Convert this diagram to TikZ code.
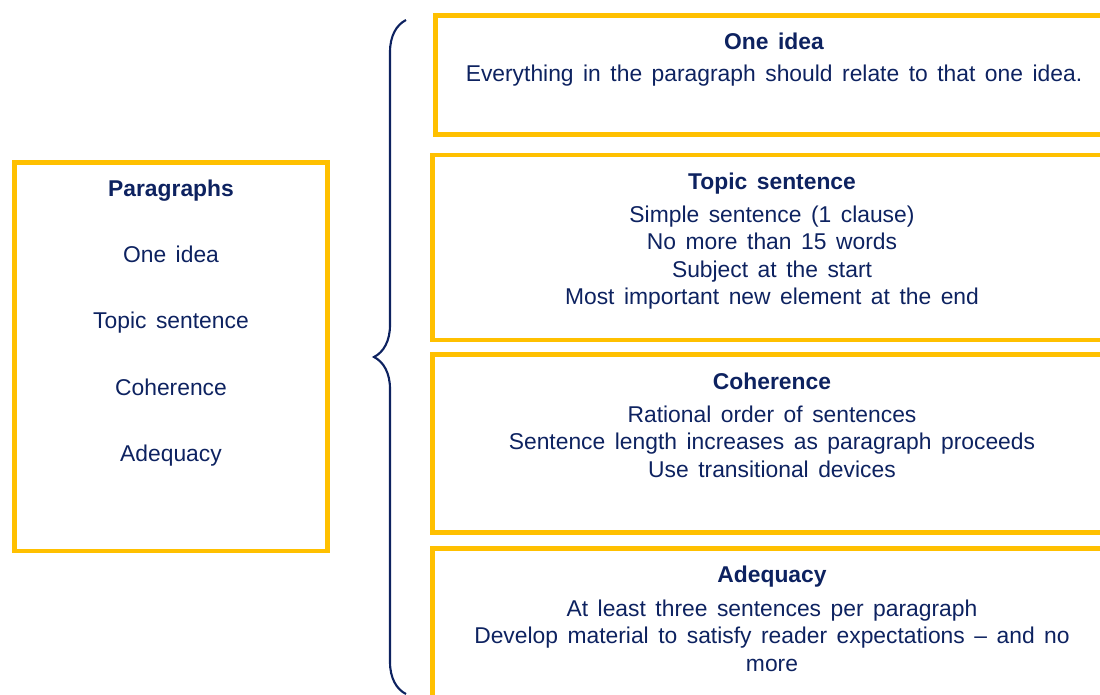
\documentclass[tikz,border=0pt]{standalone}
\usepackage{fontspec}
\setmainfont{Liberation Sans}[WordSpace=1.5]
\usetikzlibrary{
  positioning,
  decorations.pathreplacing
}
\definecolor{gold}{HTML}{FFC000}
\definecolor{navy}{HTML}{0D2260}

\begin{document}
\begin{tikzpicture}[
  x=0.02cm, y=-0.02cm,
  every node/.style={text=navy, font=\fontsize{13}{15.6}\selectfont},
  panel/.style={draw=gold, line width=2.8pt, inner sep=0pt},
  heading/.style={font=\fontsize{13}{15.6}\selectfont\bfseries, text height=9.4pt, text depth=0pt},
  entry/.style={text height=9.4pt, text depth=0pt},
  body/.style={align=center, inner sep=0pt},
  curly/.style={draw=navy, line width=1.2pt,
    decorate, decoration={brace, amplitude=0.64cm}},
]
\useasboundingbox (0,0) rectangle (1100,694);

% left summary box
\node[panel, minimum width=6.26cm, minimum height=7.77cm] (paragraphs) at (171,356.75) {};
\node[heading] (paragraphs-title) at (171,188) {Paragraphs};
\foreach \item [count=\i] in {One idea,Topic sentence,Coherence,Adequacy}
  \node[entry] (item-\i) at (171,188+66.3*\i) {\item};

% right detail boxes
\node[panel, minimum width=13.54cm, minimum height=2.38cm] (idea) at (773.5,75) {};
\node[panel, minimum width=13.58cm, minimum height=3.70cm] (topic) at (772,247.5) {};
\node[panel, minimum width=13.58cm, minimum height=3.55cm] (coherence) at (772,443.5) {};
\node[panel, minimum width=13.57cm, minimum height=4.00cm] (adequacy) at (772,648.7) {};

\node[heading] (idea-title) at (774,41) {One idea};
\node[body] (idea-text) at (774,76) {Everything in the paragraph should relate to that one idea.};

\node[heading] (topic-title) at (772,181) {Topic sentence};
\node[body] (topic-text) at (772,257.5) {Simple sentence (1 clause)\\No more than 15 words\\Subject at the start\\Most important new element at the end};

\node[heading] (coherence-title) at (772,381) {Coherence};
\node[body] (coherence-text) at (772,441.5) {Rational order of sentences\\Sentence length increases as paragraph proceeds\\Use transitional devices};

\node[heading] (adequacy-title) at (772,574) {Adequacy};
\node[body] (adequacy-text) at (772,635.5) {At least three sentences per paragraph\\Develop material to satisfy reader expectations -- and no\\more};

% brace joining the two sides
\coordinate (brace-top) at (406,20);
\coordinate (brace-bot) at (406,694);
\draw[curly] (brace-bot) -- (brace-top);
\end{tikzpicture}
\end{document}
